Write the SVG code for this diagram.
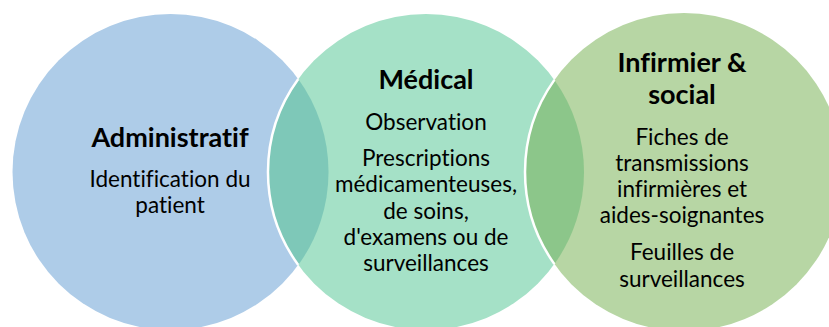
<svg xmlns="http://www.w3.org/2000/svg" width="829" height="327" viewBox="0 0 829 327">
<style>
.t,.b{font-family:Lato,"Liberation Sans",sans-serif;fill:#000;text-anchor:middle;font-variant-ligatures:none;font-feature-settings:"liga" 0,"dlig" 0}
.t{font-weight:bold;font-size:27px}
.b{font-size:22.5px}
.sep{fill:none;stroke:#fff;stroke-width:2.5}
</style>
<rect width="829" height="327" fill="#fff"/>
<g id="admin">
<circle cx="170.5" cy="172" r="158" fill="#AECCE8"/>
</g>
<g id="medical">
<circle cx="426" cy="172" r="158" fill="#A5E1C7"/>
</g>
<g id="infirmier">
<circle cx="684" cy="172" r="159" fill="#B7D6A4"/>
</g>
<g id="overlaps">
<path d="M298.25,79 A158,158 0 0,1 298.25,265 A158,158 0 0,1 298.25,79Z" fill="#7EC8B8"/>
<path d="M554.4,79.9 A158,158 0 0,1 554.4,264.1 A159,159 0 0,1 554.4,79.9Z" fill="#8CC68A"/>
<path class="sep" d="M298.25,79 A158,158 0 0,0 298.25,265"/>
<path class="sep" d="M554.4,79.9 A159,159 0 0,0 554.4,264.1"/>
</g>
<g id="admin-text">
<text class="t" x="170" y="146.5">Administratif</text>
<text class="b" x="170" y="187">Identification du</text>
<text class="b" x="170" y="213">patient</text>
</g>
<g id="medical-text">
<text class="t" x="426" y="88.5">Médical</text>
<text class="b" x="426" y="129.5">Observation</text>
<text class="b" x="426" y="166">Prescriptions</text>
<text class="b" x="426" y="192">médicamenteuses,</text>
<text class="b" x="426" y="218.5">de soins,</text>
<text class="b" x="426" y="245">d'examens ou de</text>
<text class="b" x="426" y="271">surveillances</text>
</g>
<g id="infirmier-text">
<text class="t" x="682" y="71.5">Infirmier &amp;</text>
<text class="t" x="682" y="103.5">social</text>
<text class="b" x="682" y="145">Fiches de</text>
<text class="b" x="682" y="171">transmissions</text>
<text class="b" x="682" y="197">infirmières et</text>
<text class="b" x="682" y="223">aides-soignantes</text>
<text class="b" x="682" y="260">Feuilles de</text>
<text class="b" x="682" y="287">surveillances</text>
</g>
</svg>
